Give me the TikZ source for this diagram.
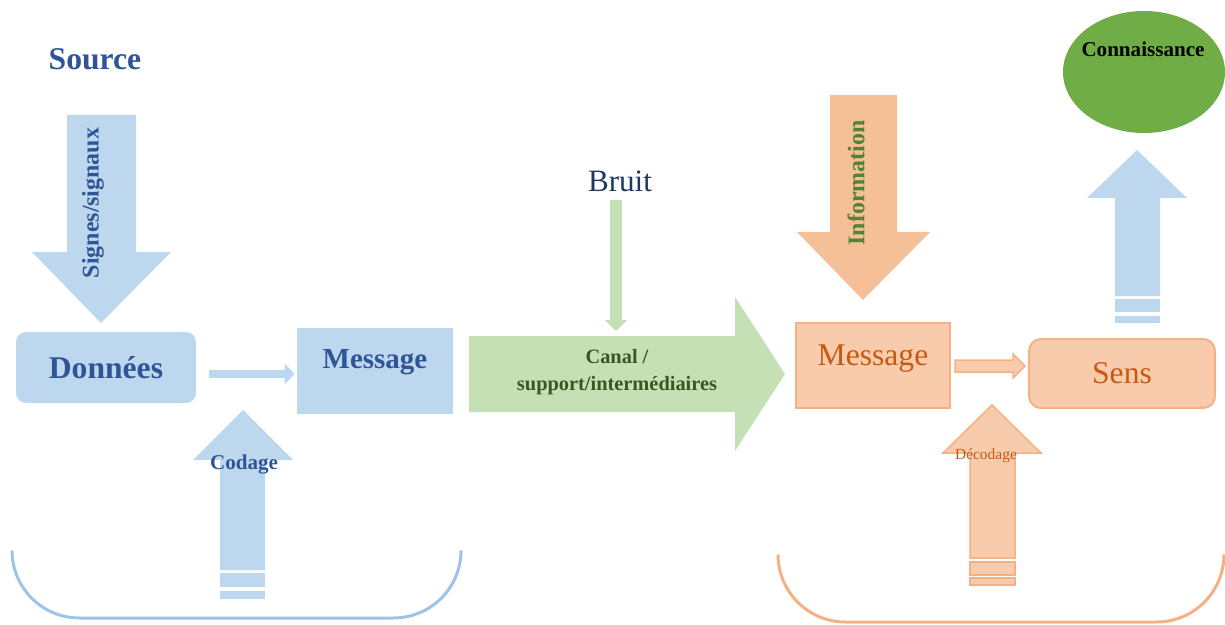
\documentclass[tikz,border=0pt]{standalone}
\usepackage{fontspec}
\setmainfont{Liberation Serif}
\usetikzlibrary{arrows.meta,calc}
\definecolor{bleuclair}{HTML}{BDD7EE}
\definecolor{bleutexte}{HTML}{2F5597}
\definecolor{bleutrait}{HTML}{9DC3E6}
\definecolor{vertclair}{HTML}{C5E0B4}
\definecolor{verttexte}{HTML}{385723}
\definecolor{vertinfo}{HTML}{548235}
\definecolor{vertfonce}{HTML}{70AD47}
\definecolor{marine}{HTML}{1F3864}
\definecolor{orangeclair}{HTML}{F8CBAD}
\definecolor{orangebord}{HTML}{F4B183}
\definecolor{orangeinfo}{HTML}{F5BF97}
\definecolor{orangetexte}{HTML}{C55A11}

\begin{document}
\begin{tikzpicture}[x=0.02cm,y=-0.02cm,
  boitebleue/.style={fill=bleuclair,inner sep=0},
  boiteorange/.style={fill=orangeclair,draw=orangebord,line width=0.04cm,inner sep=0},
  contour/.style={fill=orangeclair,draw=orangebord,line width=0.03cm},
  bracket/.style={line width=0.06cm,rounded corners=1.35cm}]
\useasboundingbox (0,0) rectangle (1225,625);

\node[font=\bfseries\fontsize{18}{22}\selectfont,text=bleutexte] (source) at (95,59) {Source};

\fill[bleuclair] (67,115) -- (136,115) -- (136,252) -- (171,252) -- (101,323) -- (32,252) -- (67,252) -- cycle;
\node[rotate=90,font=\bfseries\fontsize{13.6}{16}\selectfont,text=bleutexte] (signes) at (93,203) {Signes/signaux};

\node[boitebleue,rounded corners=0.2cm,minimum width=3.6cm,minimum height=1.42cm,
  font=\bfseries\fontsize{18}{22}\selectfont,text=bleutexte] (donnees) at (106,367.5) {Données};
\node[boitebleue,minimum width=3.12cm,minimum height=1.72cm] (msgbleu) at (375,371) {};
\node[font=\bfseries\fontsize{16.5}{20}\selectfont,text=bleutexte] (msgbleutxt) at (375,362) {Message};
\draw[bleuclair,line width=0.16cm,-{Triangle[length=0.2cm,width=0.4cm]}]
  ($(donnees.east)+(13,6.5)$) -- ($(msgbleu.west)+(-2,3)$);

\fill[bleuclair] (243,410) -- (293,460) -- (265,460) -- (265,570) -- (220,570) -- (220,460) -- (193,460) -- cycle;
\foreach \a/\b in {573/587,591/599}
  \fill[bleuclair] (220,\a) rectangle (265,\b);
\node[font=\bfseries\fontsize{12}{14}\selectfont,text=bleutexte] (codage) at (244,465) {Codage};

\draw[bleutrait,bracket] (12,553) -- (12,618) -- (461,618) -- (461,553);

\node[font=\fontsize{17.7}{21}\selectfont,text=marine,inner sep=0] (bruit) at (620,181) {Bruit};
\coordinate (canalhaut) at (616,331);
\fill[vertclair] (469,336) -- (735,336) -- (735,297) -- (785,374) -- (735,451) -- (735,412) -- (469,412) -- cycle;
\draw[vertclair,line width=0.24cm,-{Triangle[length=0.22cm,width=0.44cm]},shorten <=0.16cm]
  (bruit.south -| canalhaut) -- (canalhaut);
\node[align=center,font=\bfseries\fontsize{11.6}{15.5}\selectfont,text=verttexte] (canal) at (617,372) {Canal /\\support/intermédiaires};

\fill[orangeinfo] (830,95) -- (897,95) -- (897,232) -- (930,232) -- (863,300) -- (797,232) -- (830,232) -- cycle;
\node[rotate=90,font=\bfseries\fontsize{13.6}{16}\selectfont,text=vertinfo] (information) at (856,183) {Information};

\node[boiteorange,minimum width=3.08cm,minimum height=1.7cm] (msgorange) at (873,365.5) {};
\node[font=\fontsize{18}{22}\selectfont,text=orangetexte] (msgorangetxt) at (873,359) {Message};
\node[boiteorange,rounded corners=0.24cm,minimum width=3.72cm,minimum height=1.38cm,
  font=\fontsize{18}{22}\selectfont,text=orangetexte] (sens) at (1122,373.5) {Sens};
\filldraw[contour] (955,360) -- (1013,360) -- (1013,354) -- (1025,366) -- (1013,378) -- (1013,372) -- (955,372) -- cycle;

\filldraw[contour] (992,405) -- (1041,453) -- (1015,453) -- (1015,558) -- (970,558) -- (970,453) -- (943,453) -- cycle;
\foreach \a/\b in {562/575,578/585}
  \filldraw[contour] (970,\a) rectangle (1015,\b);
\node[font=\fontsize{8.8}{10}\selectfont,text=orangetexte] (decodage) at (986,456) {Décodage};

\draw[orangebord,bracket] (778,557) -- (778,622) -- (1224,622) -- (1224,557);

\fill[bleuclair] (1137,150) -- (1187,198) -- (1160,198) -- (1160,296) -- (1115,296) -- (1115,198) -- (1087,198) -- cycle;
\foreach \a/\b in {299/312,316/323}
  \fill[bleuclair] (1115,\a) rectangle (1160,\b);

\fill[vertfonce] (1144,72) ellipse [x radius=81,y radius=61];
\node[font=\bfseries\fontsize{12}{14}\selectfont] (connaissance) at (1143,49) {Connaissance};
\end{tikzpicture}
\end{document}
